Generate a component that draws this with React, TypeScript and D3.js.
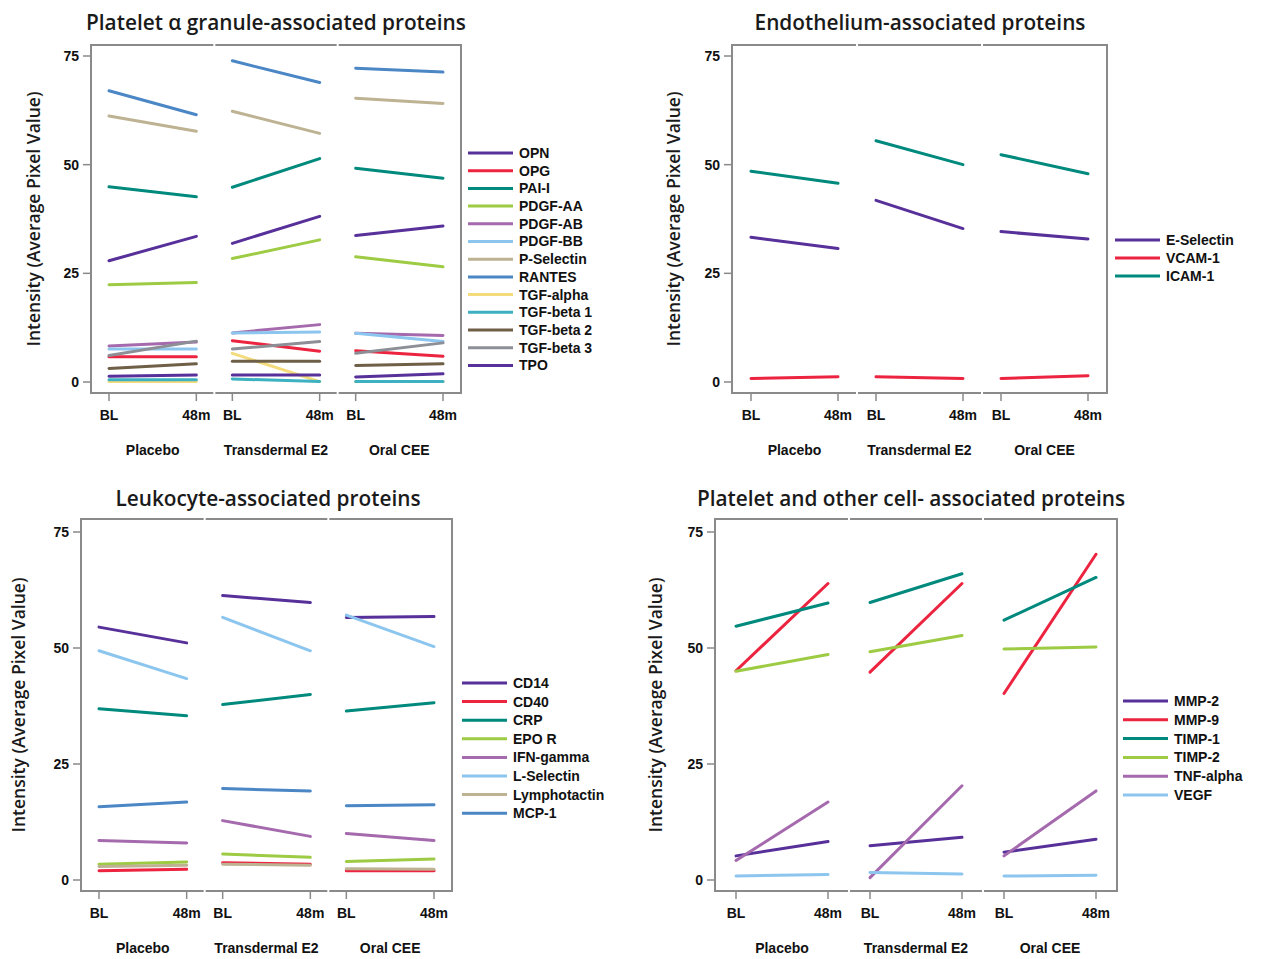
import React from "react";
import * as d3 from "d3";

const groups = ["Placebo", "Transdermal E2", "Oral CEE"];
const times = ["BL", "48m"];
const yTicks = [0, 25, 50, 75];

// values per series: Placebo BL, 48m, Transdermal BL, 48m, Oral BL, 48m
const granuleNames = ["OPN", "OPG", "PAI-I", "PDGF-AA", "PDGF-AB", "PDGF-BB", "P-Selectin", "RANTES", "TGF-alpha", "TGF-beta 1", "TGF-beta 2", "TGF-beta 3", "TPO"];
const granuleValues = [
  [27.9, 33.5, 31.9, 38.1, 33.7, 35.9],
  [5.8, 5.8, 9.5, 7.1, 7.2, 5.9],
  [44.9, 42.6, 44.8, 51.4, 49.2, 46.9],
  [22.4, 22.9, 28.4, 32.7, 28.8, 26.5],
  [8.3, 9.2, 11.3, 13.2, 11.2, 10.7],
  [7.6, 7.6, 11.3, 11.5, 11.2, 9.3],
  [61.2, 57.7, 62.3, 57.2, 65.3, 64.1],
  [67.0, 61.5, 73.9, 68.9, 72.2, 71.3],
  [0.1, 0.1, 6.6, 0.1, 0.1, 0.1],
  [0.5, 0.5, 0.7, 0.1, 0.1, 0.1],
  [3.1, 4.2, 4.8, 4.8, 3.8, 4.2],
  [6.1, 9.4, 7.6, 9.3, 6.6, 9.0],
  [1.3, 1.6, 1.6, 1.6, 1.15, 1.9],
];

const endoNames = ["E-Selectin", "VCAM-1", "ICAM-1"];
const endoValues = [
  [33.3, 30.7, 41.8, 35.3, 34.6, 32.9],
  [0.8, 1.2, 1.2, 0.8, 0.8, 1.45],
  [48.5, 45.7, 55.5, 50.0, 52.3, 47.9],
];

const leukoNames = ["CD14", "CD40", "CRP", "EPO R", "IFN-gamma", "L-Selectin", "Lymphotactin", "MCP-1"];
const leukoValues = [
  [54.5, 51.1, 61.3, 59.8, 56.6, 56.8],
  [2.0, 2.3, 3.7, 3.4, 2.0, 2.0],
  [36.9, 35.4, 37.8, 40.0, 36.4, 38.2],
  [3.4, 3.9, 5.6, 4.9, 4.0, 4.5],
  [8.5, 8.0, 12.8, 9.4, 10.0, 8.5],
  [49.4, 43.4, 56.6, 49.4, 57.1, 50.3],
  [2.9, 3.2, 3.4, 3.2, 2.4, 2.3],
  [15.8, 16.8, 19.7, 19.2, 16.0, 16.2],
];

const otherNames = ["MMP-2", "MMP-9", "TIMP-1", "TIMP-2", "TNF-alpha", "VEGF"];
const otherValues = [
  [5.2, 8.3, 7.4, 9.2, 6.0, 8.8],
  [45.1, 63.9, 44.8, 63.9, 40.2, 70.2],
  [54.7, 59.7, 59.8, 66.0, 56.0, 65.2],
  [45.0, 48.6, 49.2, 52.7, 49.8, 50.2],
  [4.2, 16.8, 0.5, 20.3, 5.2, 19.2],
  [0.86, 1.2, 1.6, 1.3, 0.86, 1.0],
];

const colors: Record<string, string> = {
  OPN: "#57309a", TPO: "#57309a", "E-Selectin": "#57309a", CD14: "#57309a", "MMP-2": "#57309a",
  OPG: "#ec2440", "VCAM-1": "#ec2440", CD40: "#ec2440", "MMP-9": "#ec2440",
  "PAI-I": "#00897d", "ICAM-1": "#00897d", CRP: "#00897d", "TIMP-1": "#00897d",
  "PDGF-AA": "#9dcb43", "EPO R": "#9dcb43", "TIMP-2": "#9dcb43",
  "PDGF-AB": "#a56aad", "IFN-gamma": "#a56aad", "TNF-alpha": "#a56aad",
  "PDGF-BB": "#8cc6ef", "L-Selectin": "#8cc6ef", VEGF: "#8cc6ef",
  "P-Selectin": "#bdb292", Lymphotactin: "#bdb292",
  RANTES: "#4b86c5", "MCP-1": "#4b86c5",
  "TGF-alpha": "#f4dc7c",
  "TGF-beta 1": "#3db1c2",
  "TGF-beta 2": "#6f5f47",
  "TGF-beta 3": "#8c9096",
};

const boldFont = "'Liberation Sans', Arial, sans-serif";
const titleFont = "'Open Sans', 'Noto Sans', sans-serif";

const panels = [
  { title: "Platelet α granule-associated proteins", names: granuleNames, values: granuleValues,
    left: 91, right: 461, top: 45, bottom: 393, y0: 382, y75: 56, inset: 18,
    titleX: 276, titleY: 30, ylabX: 33, legendX: 468, legendY: 153, legendStep: 17.7 },
  { title: "Endothelium-associated proteins", names: endoNames, values: endoValues,
    left: 732, right: 1107, top: 45, bottom: 393, y0: 382, y75: 56, inset: 19,
    titleX: 920, titleY: 30, ylabX: 673, legendX: 1115, legendY: 240, legendStep: 18 },
  { title: "Leukocyte-associated proteins", names: leukoNames, values: leukoValues,
    left: 81, right: 452, top: 519, bottom: 891, y0: 880, y75: 532, inset: 18,
    titleX: 268, titleY: 506, ylabX: 18, legendX: 462, legendY: 683, legendStep: 18.6 },
  { title: "Platelet and other cell- associated proteins", names: otherNames, values: otherValues,
    left: 715, right: 1117, top: 519, bottom: 891, y0: 880, y75: 532, inset: 21,
    titleX: 911, titleY: 506, ylabX: 655, legendX: 1123, legendY: 701, legendStep: 18.8 },
];

function Panel({ p }: { p: any }) {
  const y = d3.scaleLinear().domain([0, 75]).range([p.y0, p.y75]);
  const band = d3.scaleBand().domain(groups).range([p.left, p.right]).paddingInner(0);
  const xIn = (g: string) =>
    d3.scalePoint().domain(times).range([band(g)! + p.inset, band(g)! + band.bandwidth() - p.inset]);
  const line = d3.line<[number, number]>().x(d => d[0]).y(d => d[1]);
  const frame = "#8a8a8a";
  const midY = (p.top + p.bottom) / 2;

  return (
    <g>
      <text x={p.titleX} y={p.titleY} textAnchor="middle" fontFamily={titleFont} fontWeight={600} fontSize={20.8} fill="#1a1a1a">{p.title}</text>
      <text transform={`translate(${p.ylabX},${midY}) rotate(-90)`} textAnchor="middle" dominantBaseline="central"
        fontFamily={titleFont} fontWeight={600} fontSize={17.5} fill="#1a1a1a">Intensity (Average Pixel Value)</text>

      {/* frame: one box per treatment, thin gaps between */}
      {groups.map(g => {
        const x0 = band(g)!, x1 = x0 + band.bandwidth();
        return (
          <g key={g}>
            <line x1={x0 + 1} x2={x1 - 1} y1={p.top} y2={p.top} stroke={frame} strokeWidth={2} />
            <line x1={x0 + 1} x2={x1 - 1} y1={p.bottom} y2={p.bottom} stroke={frame} strokeWidth={2} />
          </g>
        );
      })}
      <line x1={p.left} x2={p.left} y1={p.top - 1} y2={p.bottom + 1} stroke={frame} strokeWidth={2} />
      <line x1={p.right} x2={p.right} y1={p.top - 1} y2={p.bottom + 1} stroke={frame} strokeWidth={2} />

      {yTicks.map(t => (
        <g key={t}>
          <line x1={p.left - 8} x2={p.left} y1={y(t)} y2={y(t)} stroke={frame} strokeWidth={1.5} />
          <text x={p.left - 12} y={y(t)} dy="0.35em" textAnchor="end" fontFamily={boldFont} fontWeight="bold" fontSize={14} fill="#111">{t}</text>
        </g>
      ))}

      {groups.map(g => {
        const xs = xIn(g);
        return (
          <g key={g}>
            {times.map(t => (
              <g key={t}>
                <line x1={xs(t)} x2={xs(t)} y1={p.bottom} y2={p.bottom + 8} stroke={frame} strokeWidth={1.5} />
                <text x={xs(t)} y={p.bottom + 27} textAnchor="middle" fontFamily={boldFont} fontWeight="bold" fontSize={14} fill="#111">{t}</text>
              </g>
            ))}
            <text x={band(g)! + band.bandwidth() / 2} y={p.bottom + 62} textAnchor="middle" fontFamily={boldFont} fontWeight="bold" fontSize={14} fill="#111">{g}</text>
          </g>
        );
      })}

      {p.names.map((name: string, i: number) => (
        <g key={name}>
          {groups.map((g, gi) => {
            const xs = xIn(g);
            const pts: [number, number][] = times.map((t, ti) => [xs(t)!, y(p.values[i][gi * 2 + ti])]);
            return <path key={g} d={line(pts)!} fill="none" stroke={colors[name]} strokeWidth={3} strokeLinecap="round" />;
          })}
        </g>
      ))}

      {p.names.map((name: string, i: number) => {
        const ly = p.legendY + i * p.legendStep;
        return (
          <g key={name}>
            <line x1={p.legendX} x2={p.legendX + 45} y1={ly} y2={ly} stroke={colors[name]} strokeWidth={3} />
            <text x={p.legendX + 51} y={ly} dy="0.35em" fontFamily={boldFont} fontWeight="bold" fontSize={14} fill="#111">{name}</text>
          </g>
        );
      })}
    </g>
  );
}

export default function App() {
  return (
    <svg width={1264} height={959} style={{ position: "absolute", left: 0, top: 0, background: "#fff" }}>
      <rect width={1264} height={959} fill="#fff" />
      {panels.map(p => <Panel key={p.title} p={p} />)}
    </svg>
  );
}
